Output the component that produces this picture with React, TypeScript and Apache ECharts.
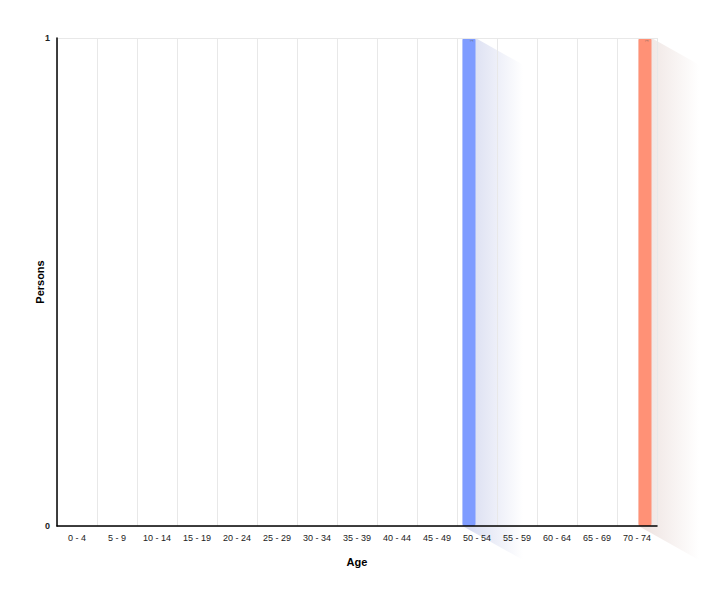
import React, { useEffect, useRef } from 'react';
import * as echarts from 'echarts';

const ageGroups = [
  '0 - 4', '5 - 9', '10 - 14', '15 - 19', '20 - 24', '25 - 29', '30 - 34', '35 - 39',
  '40 - 44', '45 - 49', '50 - 54', '55 - 59', '60 - 64', '65 - 69', '70 - 74',
];
const malePersons = [0, 0, 0, 0, 0, 0, 0, 0, 0, 0, 1, 0, 0, 0, 0];
const femalePersons = [0, 0, 0, 0, 0, 0, 0, 0, 0, 0, 0, 0, 0, 0, 1];
const yTicks = { min: 0, max: 1, interval: 1 };

const FONT = '"Liberation Sans", Arial, sans-serif';
const BAR_W = 13;
const BAR_GAP = 3;

const App: React.FC = () => {
  const chartRef = useRef<HTMLDivElement>(null);

  useEffect(() => {
    if (!chartRef.current) return;
    document.body.style.margin = '0';
    const chart = echarts.init(chartRef.current, undefined, { renderer: 'svg' });

    const barSeries = (name: string, data: number[], color: string) => ({
      name,
      type: 'bar' as const,
      z: 3,
      data: data.map(v => (v === 0 ? null : v)),
      barWidth: BAR_W,
      barGap: `${Math.round((BAR_GAP / BAR_W) * 100)}%`,
      itemStyle: { color, borderRadius: 2 },
      label: {
        show: true,
        position: 'insideTop' as const,
        rotate: 90,
        fontSize: 4,
        distance: 3,
        color: '#555',
        fontFamily: FONT,
      },
    });

    // extruded soft shadow behind each bar, heading down-right
    const shadowSeries = (data: number[], side: number, rgb: string) => ({
      type: 'custom' as const,
      z: 1,
      silent: true,
      clip: false,
      data: data.map((v, i) => [i, v]).filter(d => d[1] > 0),
      renderItem: (_p: any, api: any) => {
        const top = api.coord([api.value(0), api.value(1)]);
        const base = api.coord([api.value(0), 0]);
        const cx = top[0] + side * (BAR_W + BAR_GAP) / 2;
        const x0 = cx - BAR_W / 2;
        const x1 = cx + BAR_W / 2;
        const dx = 80;
        const dy = 45;
        return {
          type: 'polygon',
          shape: {
            points: [
              [x0, top[1]], [x1, top[1]], [x1 + dx, top[1] + dy],
              [x1 + dx, base[1] + dy], [x0 + dx, base[1] + dy], [x0, base[1]],
            ],
          },
          style: {
            fill: new echarts.graphic.LinearGradient(0, 0, 1, 0, [
              { offset: 0, color: `rgba(${rgb},0.30)` },
              { offset: 0.15, color: `rgba(${rgb},0.22)` },
              { offset: 0.65, color: `rgba(${rgb},0)` },
              { offset: 1, color: `rgba(${rgb},0)` },
            ]),
          },
        };
      },
    });

    chart.setOption({
      animation: false,
      textStyle: { fontFamily: FONT },
      grid: { left: 57, right: 68, top: 38, bottom: 75, containLabel: false },
      xAxis: {
        type: 'category',
        data: ageGroups,
        name: 'Age',
        nameLocation: 'middle',
        nameGap: 30,
        nameMoveOverlap: false,
        nameTextStyle: { fontSize: 11, fontWeight: 'bold', color: '#000', fontFamily: FONT },
        axisLine: { lineStyle: { color: '#000', width: 1.5 } },
        axisTick: { show: false },
        axisLabel: { fontSize: 9, color: '#222', margin: 7, interval: 0, fontFamily: FONT },
        splitLine: { show: true, lineStyle: { color: '#e8e8e8' } },
        z: 4,
      },
      yAxis: {
        type: 'value',
        min: yTicks.min,
        max: yTicks.max,
        interval: yTicks.interval,
        name: 'Persons',
        nameLocation: 'middle',
        nameGap: 12,
        nameMoveOverlap: false,
        nameTextStyle: { fontSize: 11, fontWeight: 'bold', color: '#000', fontFamily: FONT },
        axisLine: { show: true, lineStyle: { color: '#000', width: 1.5 } },
        axisTick: { show: false },
        axisLabel: { fontSize: 9, color: '#222', margin: 7, fontWeight: 'bold', fontFamily: FONT },
        splitLine: { show: true, lineStyle: { color: '#e8e8e8' } },
        z: 4,
      },
      series: [
        shadowSeries(malePersons, -1, '110,125,200'),
        shadowSeries(femalePersons, 1, '190,150,140'),
        barSeries('Male', malePersons, '#7f9cff'),
        barSeries('Female', femalePersons, '#ff9176'),
      ],
    });

    return () => chart.dispose();
  }, []);

  return <div ref={chartRef} style={{ width: 725, height: 601 }} />;
};

export default App;
